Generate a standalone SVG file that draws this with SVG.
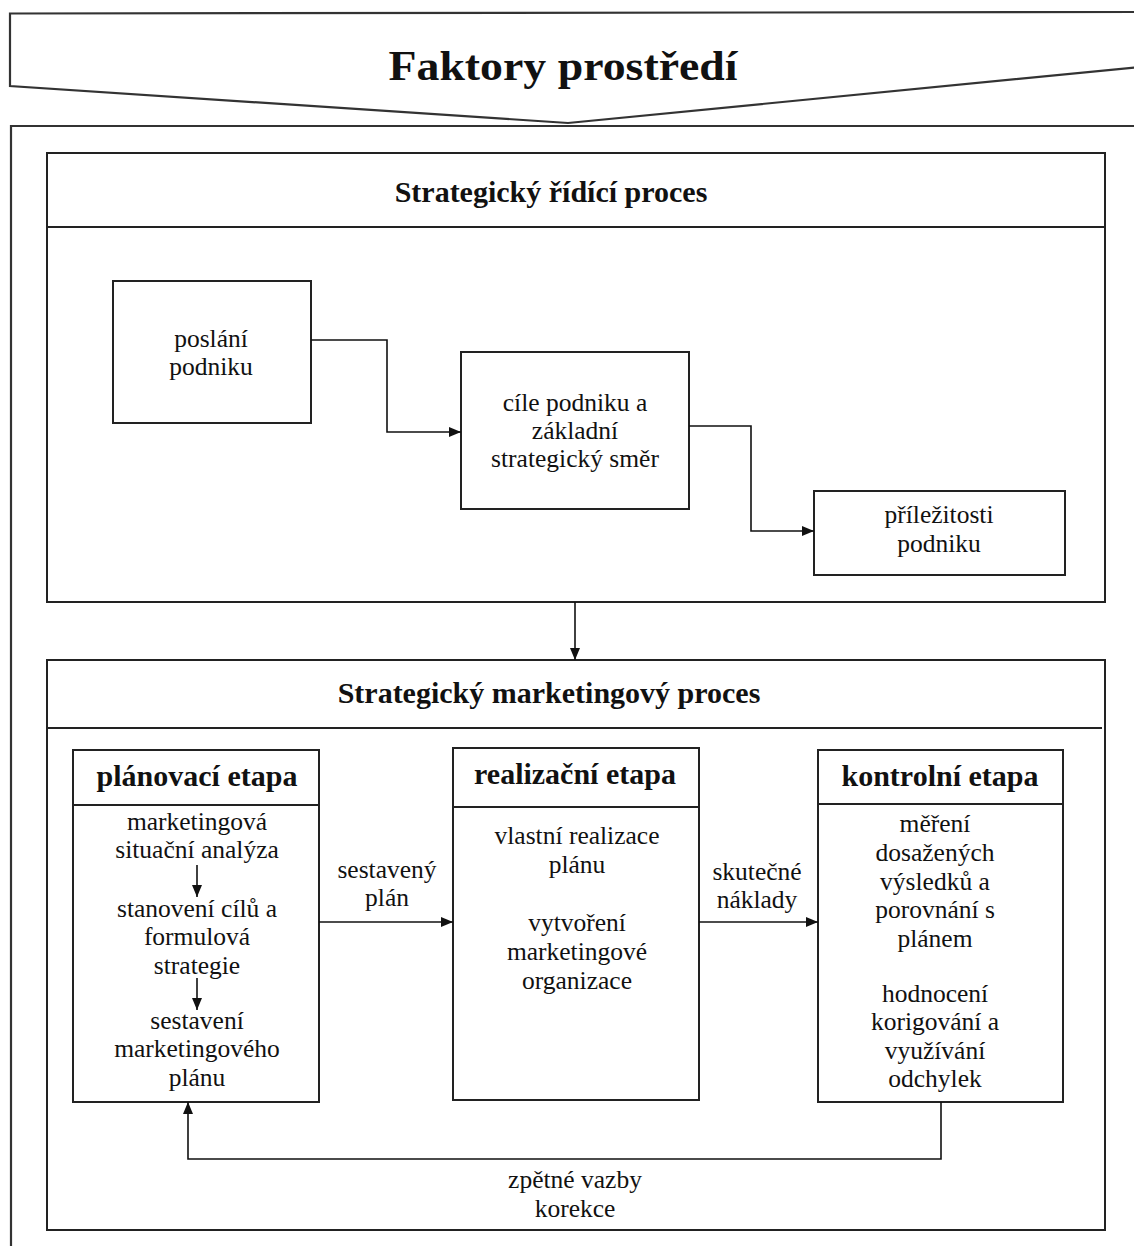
<svg xmlns="http://www.w3.org/2000/svg" width="1134" height="1246" viewBox="0 0 1134 1246">
<style>
.box{fill:#fff;stroke:#222;stroke-width:2}
.frame{fill:none;stroke:#333;stroke-width:2.2}
.ln{fill:none;stroke:#222;stroke-width:1.8}
.con{fill:none;stroke:#111;stroke-width:1.6}
text{fill:#111;text-anchor:middle}
.t{font-family:'Liberation Serif','Times New Roman',Tinos,'DejaVu Serif',serif;font-size:25.5px;font-weight:normal}
.h{font-family:'Liberation Serif','Times New Roman',serif;font-size:30px;font-weight:bold}
.hs{font-family:'Liberation Serif','Times New Roman',serif;font-size:30px;font-weight:bold}
</style>
<defs>
<marker id="ah" viewBox="0 0 12 10" refX="12" refY="5" markerWidth="12" markerHeight="10" markerUnits="userSpaceOnUse" orient="auto">
<path d="M0,0 L12,5 L0,10 Z" fill="#111"/>
</marker>
</defs>
<rect width="1134" height="1246" fill="#fff"/>

<g id="banner">
<polygon class="frame" points="10,13.5 1140,12 1140,67 568,123 10,86" fill="#fff"/>
<text x="563" y="80" font-family="'Liberation Serif','Times New Roman',serif" font-size="42" font-weight="bold" textLength="349" lengthAdjust="spacingAndGlyphs">Faktory prostředí</text>
</g>

<g id="outer">
<path class="frame" d="M11,1250 V126 H1140"/>
</g>

<g id="strategic">
<rect class="box" x="47" y="153" width="1058" height="449"/>
<line class="ln" x1="47" y1="227" x2="1105" y2="227"/>
<text class="hs" x="551" y="202">Strategický řídící proces</text>
</g>

<g id="poslani">
<rect class="box" x="113" y="281" width="198" height="142"/>
<text class="t" x="211" y="347">poslání</text>
<text class="t" x="211" y="375">podniku</text>
</g>

<g id="cile">
<rect class="box" x="461" y="352" width="228" height="157"/>
<text class="t" x="575" y="411">cíle podniku a</text>
<text class="t" x="575" y="439">základní</text>
<text class="t" x="575" y="467">strategický směr</text>
</g>

<g id="prilezitosti">
<rect class="box" x="814" y="491" width="251" height="84"/>
<text class="t" x="939" y="523">příležitosti</text>
<text class="t" x="939" y="552">podniku</text>
</g>

<g id="marketing">
<rect class="box" x="47" y="660" width="1058" height="570"/>
<line class="ln" x1="47" y1="728" x2="1102" y2="728"/>
<text class="hs" x="549" y="703">Strategický marketingový proces</text>
</g>

<g id="planovaci">
<rect class="box" x="73" y="750" width="246" height="352"/>
<line class="ln" x1="73" y1="805" x2="319" y2="805"/>
<text class="h" x="197" y="786">plánovací etapa</text>
<text class="t" x="197" y="830">marketingová</text>
<text class="t" x="197" y="858">situační analýza</text>
<text class="t" x="197" y="917">stanovení cílů a</text>
<text class="t" x="197" y="945">formulová</text>
<text class="t" x="197" y="974">strategie</text>
<text class="t" x="197" y="1029">sestavení</text>
<text class="t" x="197" y="1057">marketingového</text>
<text class="t" x="197" y="1086">plánu</text>
</g>

<g id="realizacni">
<rect class="box" x="453" y="748" width="246" height="352"/>
<line class="ln" x1="453" y1="807" x2="699" y2="807"/>
<text class="h" x="575" y="784">realizační etapa</text>
<text class="t" x="577" y="844">vlastní realizace</text>
<text class="t" x="577" y="873">plánu</text>
<text class="t" x="577" y="931">vytvoření</text>
<text class="t" x="577" y="960">marketingové</text>
<text class="t" x="577" y="989">organizace</text>
</g>

<g id="kontrolni">
<rect class="box" x="818" y="750" width="245" height="352"/>
<line class="ln" x1="818" y1="804" x2="1063" y2="804"/>
<text class="h" x="940" y="786">kontrolní etapa</text>
<text class="t" x="935" y="832">měření</text>
<text class="t" x="935" y="861">dosažených</text>
<text class="t" x="935" y="890">výsledků a</text>
<text class="t" x="935" y="918">porovnání s</text>
<text class="t" x="935" y="947">plánem</text>
<text class="t" x="935" y="1002">hodnocení</text>
<text class="t" x="935" y="1030">korigování a</text>
<text class="t" x="935" y="1059">využívání</text>
<text class="t" x="935" y="1087">odchylek</text>
</g>

<g id="connectors">
<path class="con" d="M311,340 H387 V432 H461" marker-end="url(#ah)"/>
<path class="con" d="M689,426 H751 V531 H814" marker-end="url(#ah)"/>
<path class="con" d="M575,602 V660" marker-end="url(#ah)"/>
<path class="con" d="M197,865 V897" marker-end="url(#ah)"/>
<path class="con" d="M197,978 V1010" marker-end="url(#ah)"/>
<path class="con" d="M319,922 H453" marker-end="url(#ah)"/>
<path class="con" d="M699,922 H818" marker-end="url(#ah)"/>
<path class="con" d="M941,1102 V1159 H188 V1102" marker-end="url(#ah)"/>
<text class="t" x="387" y="878">sestavený</text>
<text class="t" x="387" y="906">plán</text>
<text class="t" x="757" y="880">skutečné</text>
<text class="t" x="757" y="908">náklady</text>
<text class="t" x="575" y="1188">zpětné vazby</text>
<text class="t" x="575" y="1217">korekce</text>
</g>
</svg>
